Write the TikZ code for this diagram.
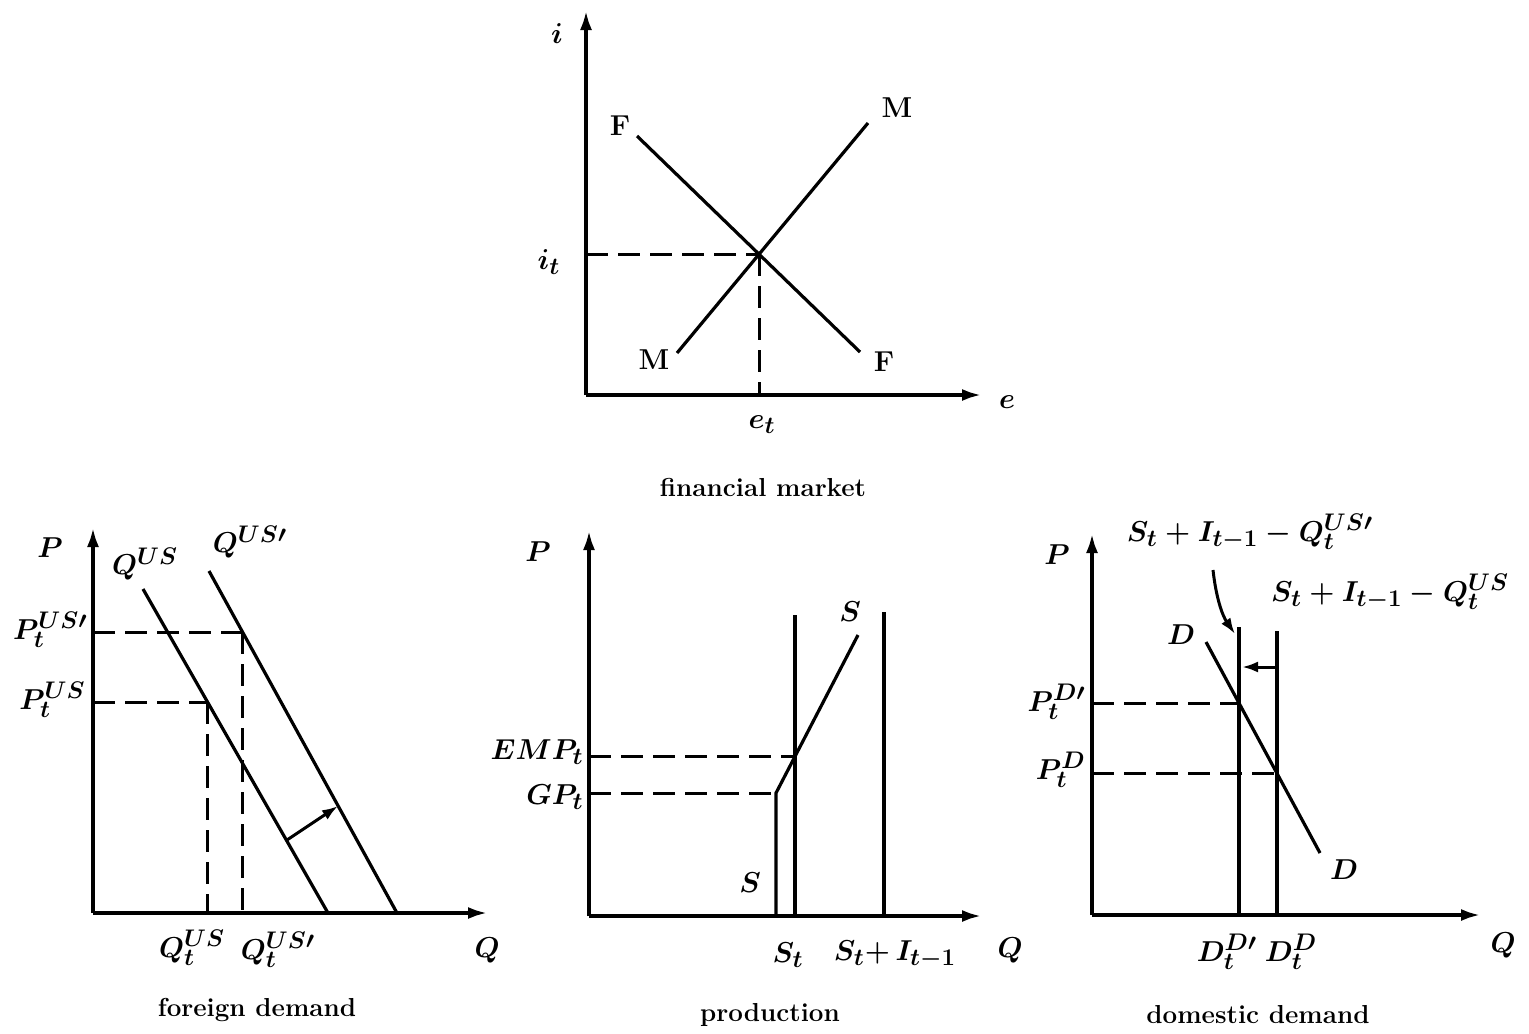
\documentclass[tikz,border=0pt]{standalone}
\usetikzlibrary{arrows.meta}
\DeclareMathSizes{14.4}{14.4}{12}{10}
\tikzset{
  axis/.style={line width=2pt, -{Latex[length=10pt,width=6pt]}},
  curve/.style={line width=1.6pt},
  guide/.style={line width=1.5pt, dash pattern=on 11pt off 5pt},
  shiftarrow/.style={line width=1.5pt, -{Latex[length=8pt,width=5.5pt]}},
  lbl/.style={inner sep=0pt, font=\fontsize{14.4}{17}\selectfont\boldmath},
  roman/.style={inner sep=0pt, font=\fontsize{14.4}{17}\selectfont\bfseries},
  caption/.style={inner sep=0pt, font=\fontsize{13}{15}\selectfont\bfseries},
}
\begin{document}
\begin{tikzpicture}[x=0.5pt,y=-0.5pt]
\useasboundingbox (0,0) rectangle (1529,1033);

% ---------------- financial market ----------------
\coordinate (fO) at (586,395);
\coordinate (fY) at (586,10);
\coordinate (fX) at (982,395);
\coordinate (F1) at (637,136);
\coordinate (F2) at (860,352);
\coordinate (M1) at (677,353);
\coordinate (M2) at (868,123);
\coordinate (fE) at (intersection of F1--F2 and M1--M2);
\draw[axis] (fO) -- (fY);
\draw[axis] (fO) -- (fX);
\draw[curve] (F1) -- (F2);
\draw[curve] (M1) -- (M2);
\draw[guide] (fO |- fE) -- (fE);
\draw[guide] (fE) -- (fE |- fO);
\node[lbl] (li) at (557,34) {$i$};
\node[lbl] (lit) at (549,262) {$i_t$};
\node[lbl] (let) at (762,425) {$e_t$};
\node[lbl] (le) at (1007,402) {$e$};
\node[roman] (lF1) at (620,126) {F};
\node[roman] (lM2) at (897,108) {M};
\node[roman] (lM1) at (654,360) {M};
\node[roman] (lF2) at (884,362) {F};
\node[caption] (cfin) at (763,487) {financial market};

% ---------------- foreign demand ----------------
\coordinate (aO) at (93,913);
\coordinate (aY) at (93,527);
\coordinate (aX) at (488,913);
\coordinate (q1a) at (143,589);
\coordinate (q1b) at (328,913);
\coordinate (q2a) at (209,571);
\coordinate (q2b) at (397,913);
\coordinate (fa1) at (242.5,632);
\coordinate (fa2) at (207.5,702);
\coordinate (fs1) at (287,840);
\coordinate (fs2) at (338,806);
\draw[axis] (aO) -- (aY);
\draw[axis] (aO) -- (aX);
\draw[curve] (q1a) -- (q1b);
\draw[curve] (q2a) -- (q2b);
\draw[guide] (aO |- fa1) -- (fa1);
\draw[guide] (fa1) -- (fa1 |- aO);
\draw[guide] (aO |- fa2) -- (fa2);
\draw[guide] (fa2) -- (fa2 |- aO);
\draw[shiftarrow] (fs1) -- (fs2);
\node[lbl] (lPa) at (50,548) {$P$};
\node[lbl] (lQus) at (145,564) {$Q^{US}$};
\node[lbl] (lQusp) at (250,542) {$Q^{US\prime}$};
\node[lbl, anchor=east] (lPusp) at (88,630) {$P_t^{US\prime}$};
\node[lbl, anchor=east] (lPus) at (86,700) {$P_t^{US}$};
\node[lbl] (lQtus) at (192,948) {$Q_t^{US}$};
\node[lbl] (lQtusp) at (278,950) {$Q_t^{US\prime}$};
\node[lbl] (lQa) at (487,950) {$Q$};
\node[caption] (cfor) at (257,1010) {foreign demand};

% ---------------- production ----------------
\coordinate (bO) at (589,916);
\coordinate (bY) at (589,530);
\coordinate (bX) at (982,916);
\coordinate (sb) at (776,916);
\coordinate (sk) at (776,793);
\coordinate (st) at (858,635);
\coordinate (stA) at (795,615);
\coordinate (stB) at (795,916);
\coordinate (siA) at (884,612);
\coordinate (siB) at (884,916);
\coordinate (emp) at (intersection of sk--st and stA--stB);
\draw[axis] (bO) -- (bY);
\draw[axis] (bO) -- (bX);
\draw[curve] (sb) -- (sk) -- (st);
\draw[curve] (stA) -- (stB);
\draw[curve] (siA) -- (siB);
\draw[guide] (bO |- emp) -- (emp);
\draw[guide] (bO |- sk) -- (sk);
\node[lbl] (lPb) at (538,552) {$P$};
\node[lbl, anchor=east] (lemp) at (584,752) {$EMP_t$};
\node[lbl, anchor=east] (lgp) at (584,797) {$GP_t$};
\node[lbl] (lSt) at (850,612) {$S$};
\node[lbl] (lSb) at (750,883) {$S$};
\node[lbl] (lSt2) at (788,955) {$S_t$};
\node[lbl] (lSI) at (895,955) {$S_t{+}\,I_{t-1}$};
\node[lbl] (lQb) at (1010,950) {$Q$};
\node[caption] (cprod) at (770,1015) {production};

% ---------------- domestic demand ----------------
\coordinate (cO) at (1092,915);
\coordinate (cY) at (1092,533);
\coordinate (cX) at (1481,915);
\coordinate (d1a) at (1239,627);
\coordinate (d1b) at (1239,915);
\coordinate (d2a) at (1277,631);
\coordinate (d2b) at (1277,915);
\coordinate (Da) at (1206,642);
\coordinate (Db) at (1320,853);
\coordinate (pd1) at (intersection of Da--Db and d1a--d1b);
\coordinate (pd2) at (intersection of Da--Db and d2a--d2b);
\coordinate (sh1) at (1277,667);
\coordinate (sh2) at (1242,667);
\coordinate (cv1) at (1213,570);
\coordinate (cv2) at (1235,634);
\draw[axis] (cO) -- (cY);
\draw[axis] (cO) -- (cX);
\draw[curve] (d1a) -- (d1b);
\draw[curve] (d2a) -- (d2b);
\draw[curve] (Da) -- (Db);
\draw[guide] (cO |- pd1) -- (pd1);
\draw[guide] (cO |- pd2) -- (pd2);
\draw[shiftarrow] (sh1) -- (sh2);
\draw[shiftarrow] (cv1) .. controls (1216,597) and (1222,615) .. (cv2);
\node[lbl] (lPc) at (1057,555) {$P$};
\node[lbl, anchor=east] (lPdp) at (1086,702) {$P_t^{D\prime}$};
\node[lbl, anchor=east] (lPd) at (1086,770) {$P_t^{D}$};
\node[lbl] (lD1) at (1181,635) {$D$};
\node[lbl] (lD2) at (1344,870) {$D$};
\node[lbl] (lDtp) at (1227,952) {$D_t^{D\prime}$};
\node[lbl] (lDt) at (1291,952) {$D_t^{D}$};
\node[lbl] (lQc) at (1503,945) {$Q$};
\node[lbl] (lSIQp) at (1250,532) {$S_t + I_{t-1} - Q_t^{US\prime}$};
\node[lbl] (lSIQ) at (1390,592) {$S_t + I_{t-1} - Q_t^{US}$};
\node[caption] (cdom) at (1258,1015) {domestic demand};
\end{tikzpicture}
\end{document}
